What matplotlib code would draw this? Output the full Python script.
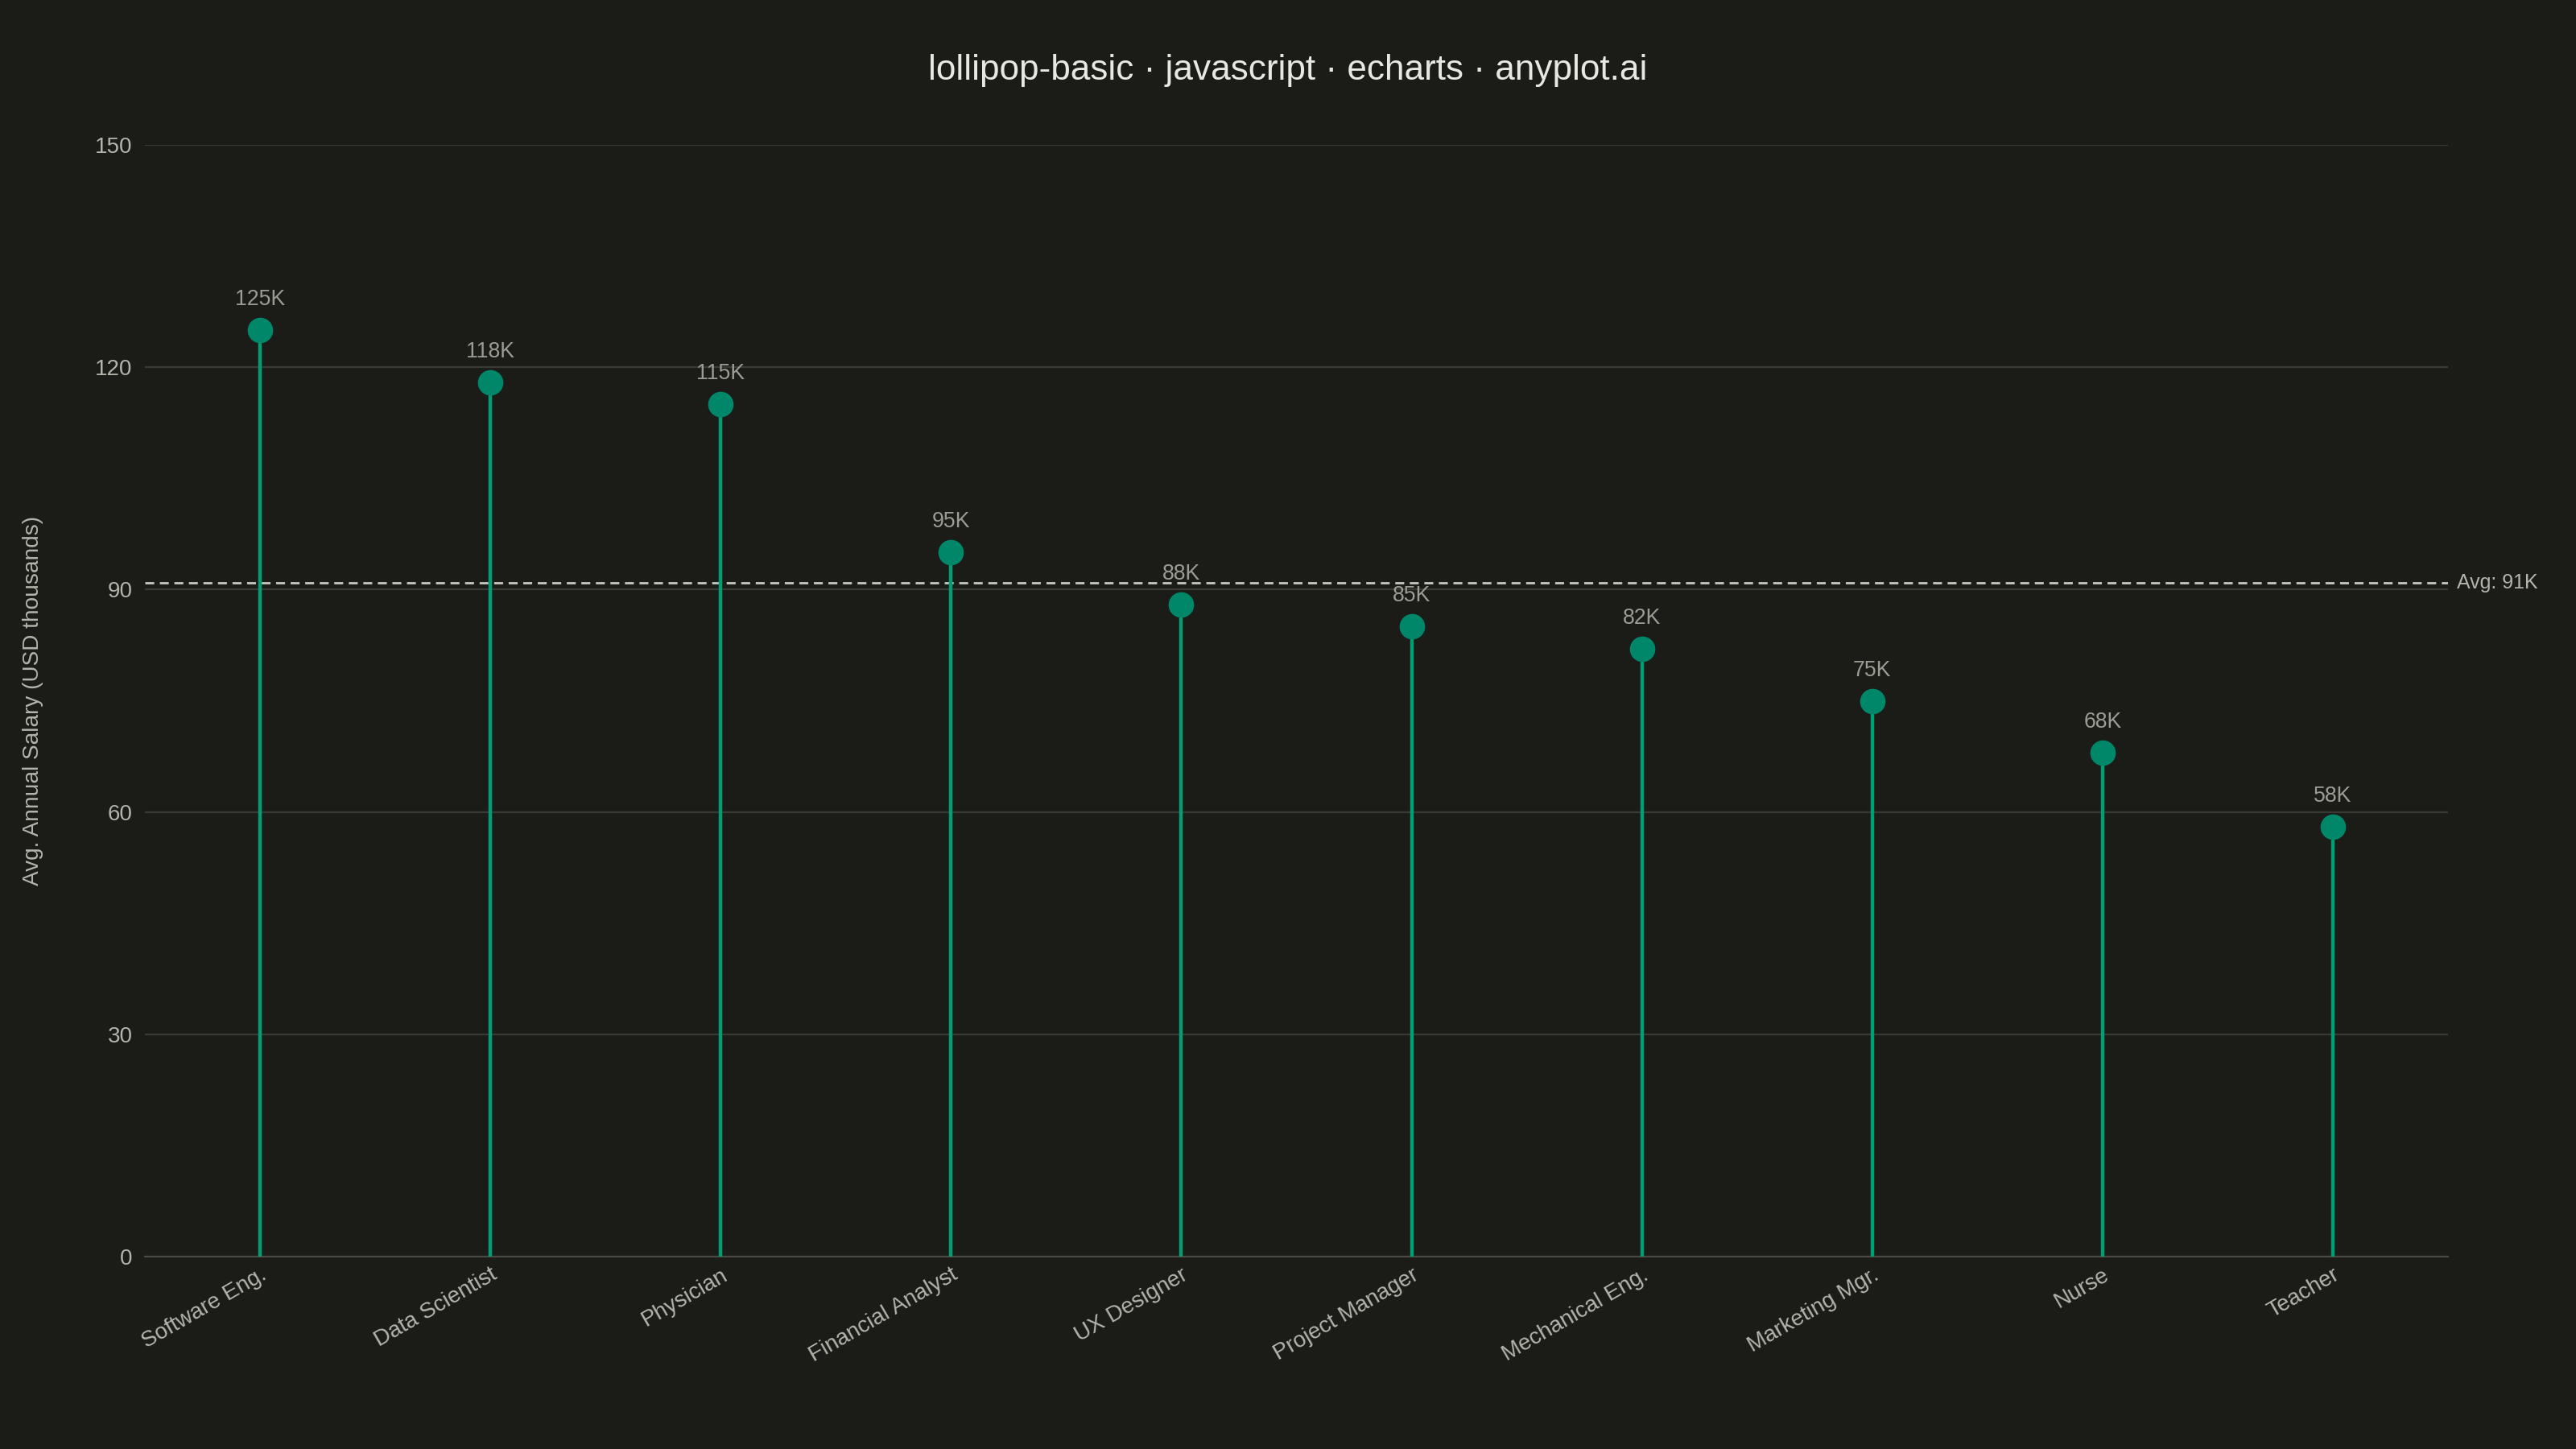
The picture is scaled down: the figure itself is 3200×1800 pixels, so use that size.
import matplotlib.pyplot as plt

# salary data (USD thousands)
jobs = ["Software Eng.", "Data Scientist", "Physician", "Financial Analyst",
        "UX Designer", "Project Manager", "Mechanical Eng.", "Marketing Mgr.",
        "Nurse", "Teacher"]
salaries = [125, 118, 115, 95, 88, 85, 82, 75, 68, 58]
y_ticks = [0, 30, 60, 90, 120, 150]

BG = "#1b1b17"
STEM = "#009e73"
DOT = "#00876a"
TEXT = "#b4b4ac"
GRID = "#3a3a35"

plt.rcParams['font.family'] = ['Liberation Sans', 'DejaVu Sans']


def plot_lollipop():
    fig = plt.figure(figsize=(16, 9), dpi=200, facecolor=BG)
    ax = fig.add_axes([180 / 3200, 1 - 1561 / 1800, (3041 - 180) / 3200, (1561 - 180) / 1800])
    ax.set_facecolor(BG)

    x = list(range(len(jobs)))
    ax.vlines(x, 0, salaries, color=STEM, linewidth=1.6, zorder=3)
    ax.scatter(x, salaries, s=130, color=DOT, zorder=4, linewidths=0)
    for xi, v in zip(x, salaries):
        ax.annotate(f"{v}K", (xi, v), xytext=(0, 9), textcoords="offset points",
                    ha="center", va="bottom", color="#9c9c94", fontsize=9.6)

    avg = sum(salaries) / len(salaries)
    ax.axhline(avg, color="#c8c8c0", linestyle=(0, (4, 2.5)), linewidth=1.0, zorder=2)
    ax.annotate(f"Avg: {avg:.0f}K", (1, avg), xycoords=("axes fraction", "data"),
                xytext=(4, 0), textcoords="offset points", ha="left", va="center",
                color=TEXT, fontsize=9, annotation_clip=False)

    ax.set_xlim(-0.5, len(jobs) - 0.5)
    ax.set_ylim(0, 150)
    ax.set_yticks(y_ticks)
    ax.grid(axis="y", color=GRID, linewidth=0.8)
    ax.set_axisbelow(True)
    for side in ["top", "right", "left"]:
        ax.spines[side].set_visible(False)
    ax.spines["bottom"].set_color("#4a4a45")
    ax.tick_params(axis="both", length=0, colors=TEXT, labelsize=10)
    ax.tick_params(axis="y", pad=5.5)
    ax.set_xticks(x)
    ax.set_xticklabels(jobs, rotation=30, ha="right", rotation_mode="anchor")
    ax.tick_params(axis="x", pad=3.5)

    ax.set_ylabel("Avg. Annual Salary (USD thousands)", color=TEXT, fontsize=10.1, labelpad=23)
    fig.text(0.5, 1 - 88 / 1800, "lollipop-basic · javascript · echarts · anyplot.ai",
             ha="center", va="center", color="#e8e8e2", fontsize=15.9)

    fig.savefig("out.png", facecolor=BG)


if __name__ == "__main__":
    plot_lollipop()
